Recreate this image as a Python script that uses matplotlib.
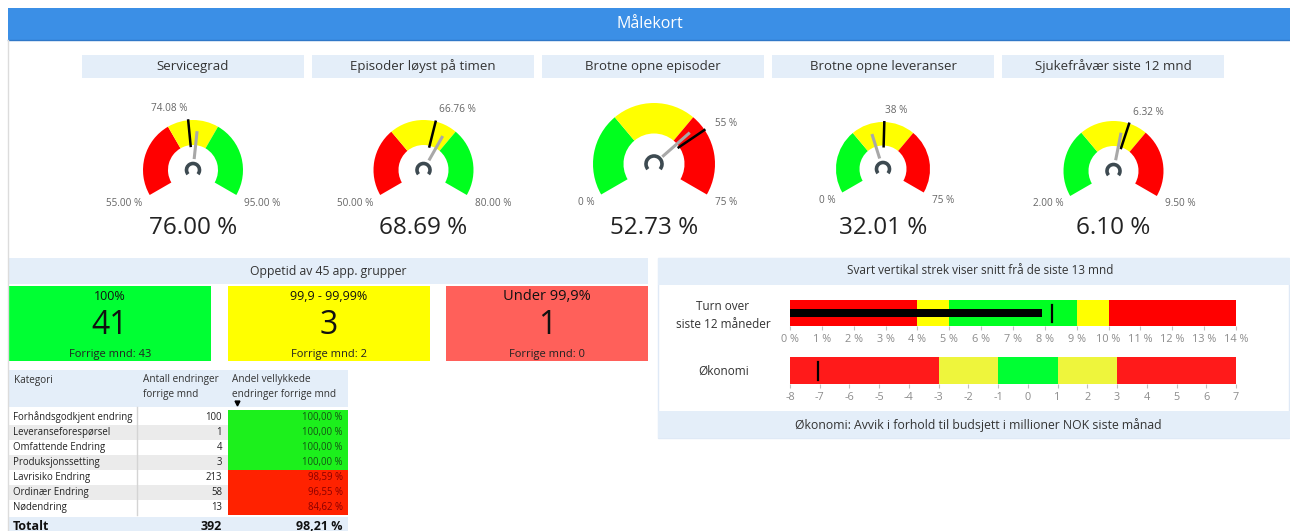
import numpy as np
import matplotlib
matplotlib.use("Agg")
import matplotlib.pyplot as plt
from matplotlib.patches import Rectangle, Wedge, Arc

plt.rcParams["font.family"] = ["Open Sans", "DejaVu Sans"]

W, H = 1290, 531

# ---- data ----
GAUGE_TITLES = ["Servicegrad", "Episoder løyst på timen", "Brotne opne episoder",
                "Brotne opne leveranser", "Sjukefråvær siste 12 mnd"]
GAUGE_MIN = [55, 50, 0, 0, 2]
GAUGE_MAX = [95, 80, 75, 75, 9.5]
GAUGE_BANDS = [[70, 80], [60, 70], [25, 50], [25, 50], [4.5, 7]]
GAUGE_HIGH_GOOD = [True, True, False, False, False]
GAUGE_VALUE = [76.00, 68.69, 52.73, 32.01, 6.10]
GAUGE_TARGET = [74.08, 66.76, 55, 38, 6.32]
GAUGE_DECIMALS = [2, 2, 0, 0, 2]

UPTIME_LABELS = ["100%", "99,9 - 99,99%", "Under 99,9%"]
UPTIME_COUNTS = [41, 3, 1]
UPTIME_PREV = [43, 2, 0]

CATEGORIES = ["Forhåndsgodkjent endring", "Leveranseforespørsel", "Omfattende Endring",
              "Produksjonssetting", "Lavrisiko Endring", "Ordinær Endring", "Nødendring"]
CHANGE_COUNTS = [100, 1, 4, 3, 213, 58, 13]
SUCCESS_PCT = [100.00, 100.00, 100.00, 100.00, 98.59, 96.55, 84.62]
TOTAL_COUNT = 392
TOTAL_PCT = 98.21

TURN_EDGES = [0, 4, 5, 9, 10, 14]
TURN_VALUE = 7.91
TURN_AVG = 8.22
ECON_EDGES = [-8, -3, -1, 1, 3, 7]
ECON_AVG = -7.05

# ---- style ----
RED = "#ff0000"
YELLOW = "#ffff00"
GREEN = "#00ff1e"
PALE = "#e4eef9"
INK = "#333333"
MUTED = "#666666"


def px_axes(fig, x0, y0, x1, y1):
    return fig.add_axes([x0 / W, 1 - y1 / H, (x1 - x0) / W, (y1 - y0) / H])


def fmt(v, d):
    return f"{v:.{d}f} %"


def draw_gauge(fig, bg, i, cx, cy, ro):
    lo, hi = GAUGE_MIN[i], GAUGE_MAX[i]
    ri = ro * 0.5
    ax = px_axes(fig, cx - 110, cy - 80, cx + 110, cy + 45)
    ax.set_xlim(-110, 110)
    ax.set_ylim(-45, 80)
    ax.axis("off")

    def ang(v):
        return 210 - (v - lo) / (hi - lo) * 240

    edges = [lo] + GAUGE_BANDS[i] + [hi]
    colors = [RED, YELLOW, GREEN] if GAUGE_HIGH_GOOD[i] else [GREEN, YELLOW, RED]
    for a, b, c in zip(edges[:-1], edges[1:], colors):
        ax.add_patch(Wedge((0, 0), ro, ang(b), ang(a), width=ro - ri, facecolor=c, edgecolor="none"))

    t = np.radians(ang(GAUGE_TARGET[i]))
    ax.plot([(ri - 2) * np.cos(t), (ro + 1) * np.cos(t)], [(ri - 2) * np.sin(t), (ro + 1) * np.sin(t)],
            color="black", lw=1.8, solid_capstyle="butt")
    ha = "right" if np.degrees(t) > 90 else "left"
    ax.text((ro + 12) * np.cos(t), (ro + 12) * np.sin(t), fmt(GAUGE_TARGET[i], GAUGE_DECIMALS[i]),
            ha=ha, va="center", fontsize=7.2, color=MUTED)

    v = np.radians(ang(GAUGE_VALUE[i]))
    ax.plot([11 * np.cos(v), ro * 0.78 * np.cos(v)], [11 * np.sin(v), ro * 0.78 * np.sin(v)],
            color="#a8a8a8", lw=2.2, solid_capstyle="butt")
    hr = 6.5 if ro < 55 else 8
    ax.add_patch(Arc((0, 0), 2 * hr, 2 * hr, theta1=-40, theta2=220, lw=2.6, color="#3d4a51"))

    e = np.radians(210)
    ex, ey = ro * np.cos(e), ro * np.sin(e)
    ax.text(ex - 7, ey - 8, fmt(lo, GAUGE_DECIMALS[i]), ha="right", va="center", fontsize=7.2, color=MUTED)
    ax.text(-ex + 8, ey - 8, fmt(hi, GAUGE_DECIMALS[i]), ha="left", va="center", fontsize=7.2, color=MUTED)

    bg.text(cx, 228, fmt(GAUGE_VALUE[i], 2), ha="center", va="center", fontsize=17.5, color="#222222")


def draw_bullet(ax, edges, colors, lo, hi):
    ax.barh(0, np.diff(edges), left=edges[:-1], height=1, color=colors, edgecolor="none")
    ax.set_xlim(lo, hi)
    ax.set_ylim(-0.5, 0.5)
    ax.set_yticks([])
    for s in ax.spines.values():
        s.set_visible(False)
    ax.tick_params(axis="x", length=3, width=0.8, color="#c0c0c0", pad=3, labelsize=7.8, labelcolor="#8c8c8c")


def main():
    fig = plt.figure(figsize=(W / 100, H / 100), dpi=100)
    fig.patch.set_facecolor("white")
    bg = fig.add_axes([0, 0, 1, 1])
    bg.set_xlim(0, W)
    bg.set_ylim(H, 0)
    bg.axis("off")

    # title bar
    bg.add_patch(Rectangle((8, 8), W - 8, 32, facecolor="#3b8fe6", edgecolor="none"))
    bg.plot([8, W], [40, 40], color="#2f78c8", lw=1)
    bg.text(650, 24, "Målekort", ha="center", va="center", fontsize=11.5, color="white")
    bg.plot([8, 8], [40, H], color="#dcdcdc", lw=1)

    # gauges
    box_x = [82, 312, 542, 772, 1002]
    centers = [(193, 170, 50), (423.5, 170, 50), (654, 164, 61), (883, 169, 47), (1113.5, 171, 50)]
    for i, title in enumerate(GAUGE_TITLES):
        bg.add_patch(Rectangle((box_x[i], 55), 222, 23, facecolor=PALE, edgecolor="none"))
        bg.text(box_x[i] + 111, 66.5, title, ha="center", va="center", fontsize=9.5, color=INK)
    for i, (cx, cy, ro) in enumerate(centers):
        draw_gauge(fig, bg, i, cx, cy, ro)

    # uptime
    bg.add_patch(Rectangle((9, 258), 639, 26, facecolor=PALE, edgecolor="none"))
    bg.text(328, 271, "Oppetid av 45 app. grupper", ha="center", va="center", fontsize=8.8, color=INK)
    up_x = [9, 228, 446]
    up_colors = ["#00ff33", "#ffff00", "#ff605a"]
    for i in range(3):
        bg.add_patch(Rectangle((up_x[i], 286), 202, 75, facecolor=up_colors[i], edgecolor="none"))
        cx = up_x[i] + 101
        bg.text(cx, 296, UPTIME_LABELS[i], ha="center", va="center",
                fontsize=10.5 if i == 2 else 9, color="#111111")
        bg.text(cx, 325, str(UPTIME_COUNTS[i]), ha="center", va="center", fontsize=23, color="#111111")
        bg.text(cx, 354, f"Forrige mnd: {UPTIME_PREV[i]}", ha="center", va="center", fontsize=8, color="#222222")

    # table
    bg.add_patch(Rectangle((9, 370), 339, 37, facecolor=PALE, edgecolor="none"))
    bg.text(14, 380, "Kategori", ha="left", va="center", fontsize=7.2, color=INK)
    bg.text(143, 387, "Antall endringer\nforrige mnd", ha="left", va="center", fontsize=7.2, color=INK,
            linespacing=1.4)
    bg.text(232, 387, "Andel vellykkede\nendringer forrige mnd", ha="left", va="center", fontsize=7.2,
            color=INK, linespacing=1.4)
    bg.plot([237], [403], marker="v", markersize=3.5, color="black")
    row_h = 15
    top = 410
    for r, (cat, n, p) in enumerate(zip(CATEGORIES, CHANGE_COUNTS, SUCCESS_PCT)):
        y = top + r * row_h
        if r % 2 == 1:
            bg.add_patch(Rectangle((9, y), 219, row_h, facecolor="#ebebeb", edgecolor="none"))
        good = p >= 100
        bg.add_patch(Rectangle((228, y), 120, row_h, facecolor="#1cf01c" if good else "#ff2200",
                               edgecolor="none"))
        yc = y + row_h / 2
        bg.text(13, yc, cat, ha="left", va="center", fontsize=6.9, color="#222222")
        bg.text(222, yc, str(n), ha="right", va="center", fontsize=6.9, color="#222222")
        bg.text(343, yc, f"{p:.2f}".replace(".", ",") + " %", ha="right", va="center", fontsize=6.9,
                color="#145214" if good else "#8a0000")
    bg.plot([137, 137], [407, top + 7 * row_h], color="#d4d4d4", lw=1)
    bg.add_patch(Rectangle((9, 517), 339, 20, facecolor=PALE, edgecolor="none"))
    bg.text(13, 526, "Totalt", ha="left", va="center", fontsize=9, fontweight="bold", color="#111111")
    bg.text(222, 526, str(TOTAL_COUNT), ha="right", va="center", fontsize=9, fontweight="bold",
            color="#111111")
    bg.text(343, 526, f"{TOTAL_PCT:.2f}".replace(".", ",") + " %", ha="right", va="center", fontsize=9,
            fontweight="bold", color="#111111")

    # right panel
    bg.add_patch(Rectangle((658, 258), W - 659, 180, facecolor="white", edgecolor="#dfe9f6", lw=1))
    bg.add_patch(Rectangle((658, 258), W - 658, 27, facecolor=PALE, edgecolor="none"))
    bg.text(980, 271, "Svart vertikal strek viser snitt frå de siste 13 mnd", ha="center", va="center",
            fontsize=8.5, color=INK)
    bg.add_patch(Rectangle((658, 411), W - 658, 27, facecolor=PALE, edgecolor="none"))
    bg.text(978, 425, "Økonomi: Avvik i forhold til budsjett i millioner NOK siste månad", ha="center",
            va="center", fontsize=8.8, color=INK)
    bg.text(723, 316, "Turn over\nsiste 12 måneder", ha="center", va="center", fontsize=8.5, color=INK,
            linespacing=1.5)
    bg.text(724, 371, "Økonomi", ha="center", va="center", fontsize=8.5, color=INK)

    ax1 = px_axes(fig, 790, 300, 1236, 326)
    draw_bullet(ax1, TURN_EDGES, [RED, YELLOW, "#00ff22", YELLOW, RED], 0, 14)
    ax1.barh(0, TURN_VALUE, height=0.28, color="black")
    ax1.axvline(TURN_AVG, ymin=0.15, ymax=0.81, color="black", lw=1.6)
    ticks = np.arange(0, 15)
    ax1.set_xticks(ticks)
    ax1.set_xticklabels([f"{t} %" for t in ticks])

    ax2 = px_axes(fig, 790, 357, 1236, 384)
    draw_bullet(ax2, ECON_EDGES, ["#ff1a1a", "#eef53c", "#00ff33", "#eef53c", "#ff1a1a"], -8, 7)
    ax2.axvline(ECON_AVG, ymin=0.15, ymax=0.81, color="black", lw=1.6)
    ticks = np.arange(-8, 8)
    ax2.set_xticks(ticks)
    ax2.set_xticklabels([str(t) for t in ticks])

    fig.savefig("out.png", dpi=100, facecolor="white")
    plt.close(fig)


if __name__ == "__main__":
    main()
